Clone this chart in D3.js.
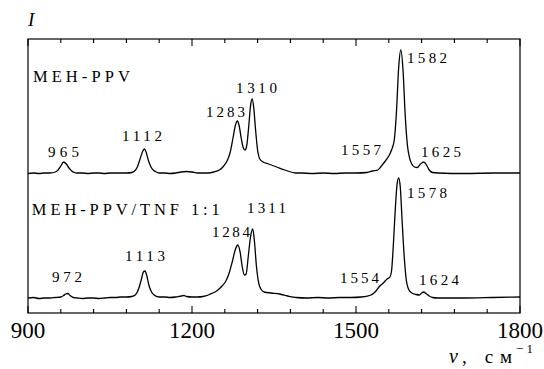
<!DOCTYPE html>
<html><head><meta charset="utf-8">
<script src="https://cdn.jsdelivr.net/npm/d3@7"></script>
</head>
<body style="margin:0">
<svg id="chart" width="544" height="369"></svg>
<script>
// ---- data ----
const xDomain = [900, 1800];
const majorTicks = [900, 1200, 1500, 1800];
const minorTicks = [960, 1020, 1080, 1140, 1260, 1320, 1380, 1440, 1560, 1620, 1680, 1740];
const xLabel = "ν";
const xUnit = "см";
const yLabel = "I";

// MEH-PPV spectrum (wavenumber, intensity a.u.)
const mehPPV = [[900,139.5],[910,140],[920,139.5],[930,140],[940,140],[950,141],[955,143],[960,147],[965,151],[970,149],[975,145],[980,142],[985,140.5],[990,140],[1000,140],[1010,139.5],[1020,140],[1030,140],[1040,139.5],[1050,140],[1060,140],[1070,140],[1080,140],[1090,140.5],[1095,142],[1100,146],[1105,154],[1110,162],[1113,164],[1116,161],[1120,153],[1125,146],[1130,142.5],[1135,141],[1140,140],[1150,140],[1160,139.5],[1170,140],[1180,141],[1190,141.5],[1200,141],[1210,140],[1220,140],[1230,140],[1240,141],[1250,143],[1258,147],[1265,153],[1270,161],[1275,175],[1280,189],[1283,192],[1286,188],[1290,175],[1294,165],[1297,163],[1300,167],[1304,188],[1307,207],[1310,214],[1313,205],[1316,185],[1320,163],[1324,154],[1330,151],[1340,149],[1355,146],[1370,143],[1390,140],[1400,140],[1420,139.5],[1440,140],[1460,139.5],[1480,140],[1500,140],[1520,140.5],[1530,142],[1540,143],[1548,148],[1555,153],[1560,157],[1565,163],[1570,173],[1574,201],[1578,245],[1582,263],[1586,243],[1590,198],[1594,168],[1598,155],[1602,149],[1607,146],[1612,145.5],[1618,149],[1624,151],[1629,148],[1634,143],[1640,140.5],[1650,140],[1700,139.5],[1750,140],[1800,140]];

// MEH-PPV/TNF 1:1 spectrum
const mehTNF = [[900,15],[910,15.5],[920,14.5],[930,15],[940,15],[950,15.5],[960,16],[965,17.5],[969,19],[973,19.5],[977,17.5],[983,15.5],[990,15],[1000,14.5],[1010,15],[1020,15],[1030,14.5],[1040,15],[1050,15.5],[1060,15.5],[1070,16],[1080,16],[1090,16.5],[1096,18],[1100,21],[1104,27],[1108,35],[1111,41],[1114,42],[1117,38],[1121,28],[1126,21],[1132,17.5],[1140,16],[1150,16],[1160,15.5],[1170,16],[1180,17],[1185,17.5],[1190,16.5],[1200,16],[1210,16],[1220,16.5],[1230,18],[1238,20],[1245,22],[1255,27],[1262,32],[1268,40],[1274,52],[1279,63],[1284,68],[1288,61],[1292,46],[1296,38],[1299,39],[1303,57],[1307,76],[1311,84],[1314,73],[1318,46],[1322,30],[1326,24],[1332,21],[1345,20],[1360,19],[1375,17],[1390,15.5],[1410,15],[1430,15.5],[1450,15],[1470,15.5],[1490,15.5],[1510,16],[1525,17.5],[1535,21],[1542,26],[1550,30],[1557,34],[1562,36],[1565,42],[1568,65],[1572,105],[1575,128],[1578,135],[1581,126],[1584,96],[1588,58],[1592,33],[1596,24],[1602,20],[1610,18.5],[1616,18],[1620,20],[1624,21],[1628,19.5],[1634,17],[1640,15.5],[1650,15],[1700,15],[1750,15.5],[1800,16]];

// annotations: text, anchor wavenumber, anchor intensity (text baseline-left), width
const seriesNames = ["MEH-PPV", "MEH-PPV/TNF 1:1"];
const peakLabels = [
  ["965", 936.6, 156, 31], ["1112", 1072, 172, 40], ["1283", 1225.6, 196, 39], ["1310", 1280.5, 220, 41],
  ["1582", 1593.3, 250, 40], ["1557", 1472.6, 158, 40], ["1625", 1618.9, 156, 40],
  ["972", 943.9, 31, 30], ["1113", 1077.4, 52, 40], ["1284", 1236.6, 76, 38], ["1311", 1300.6, 100, 39],
  ["1578", 1593.3, 115, 40], ["1554", 1470.7, 30, 39], ["1624", 1615.2, 28, 40]
];

// ---- layout ----
const L = 28, R = 520, T = 39, B = 313;
const svg = d3.select("#chart");
const x = d3.scaleLinear().domain(xDomain).range([L, R]);
const y = d3.scaleLinear().domain([0, 274]).range([B, T]);

// frame
svg.append("rect").attr("x", L).attr("y", T).attr("width", R - L).attr("height", B - T)
  .attr("fill", "none").attr("stroke", "#000").attr("stroke-width", 1.2);

// ticks (inward, top & bottom)
const tickG = svg.append("g").attr("stroke", "#000").attr("stroke-width", 1.1);
majorTicks.forEach(t => {
  tickG.append("line").attr("x1", x(t)).attr("x2", x(t)).attr("y1", B).attr("y2", B - 7);
  tickG.append("line").attr("x1", x(t)).attr("x2", x(t)).attr("y1", T).attr("y2", T + 7);
});
minorTicks.forEach(t => {
  tickG.append("line").attr("x1", x(t)).attr("x2", x(t)).attr("y1", B).attr("y2", B - 4);
  tickG.append("line").attr("x1", x(t)).attr("x2", x(t)).attr("y1", T).attr("y2", T + 4);
});

// spectra
const line = d3.line().x(d => x(d[0])).y(d => y(d[1])).curve(d3.curveMonotoneX);
[mehPPV, mehTNF].forEach(s => {
  svg.append("path").attr("d", line(s)).attr("fill", "none")
    .attr("stroke", "#000").attr("stroke-width", 1.3).attr("stroke-linejoin", "round");
});

// all texts
const texts = [];
majorTicks.forEach(t => texts.push({t: String(t), x: x(t), y: 338, size: 23, anchor: "middle"}));
texts.push({t: seriesNames[0], x: x(909), y: y(231), size: 16.5, len: 97});
texts.push({t: seriesNames[1], x: x(907), y: y(98), size: 16.5, len: 188});
peakLabels.forEach(d => texts.push({t: d[0], x: x(d[1]), y: y(d[2]), size: 15, len: d[3]}));
texts.push({t: yLabel, x: 28, y: 26, size: 19, italic: true});
texts.push({t: xLabel, x: 449, y: 363, size: 20, italic: true});
texts.push({t: ", " + xUnit, x: 462, y: 363, size: 19, len: 50});
texts.push({t: "−1", x: 516, y: 353, size: 13, len: 17});

svg.append("g").selectAll("text").data(texts).join("text")
  .attr("x", d => d.x).attr("y", d => d.y).attr("font-size", d => d.size)
  .style("font-family", "\"Liberation Serif\"")
  .attr("font-style", d => d.italic ? "italic" : null)
  .attr("text-anchor", d => d.anchor || "start")
  .attr("textLength", d => d.len || null)
  .attr("lengthAdjust", d => d.len ? "spacing" : null)
  .text(d => d.t);
</script>
</body></html>
